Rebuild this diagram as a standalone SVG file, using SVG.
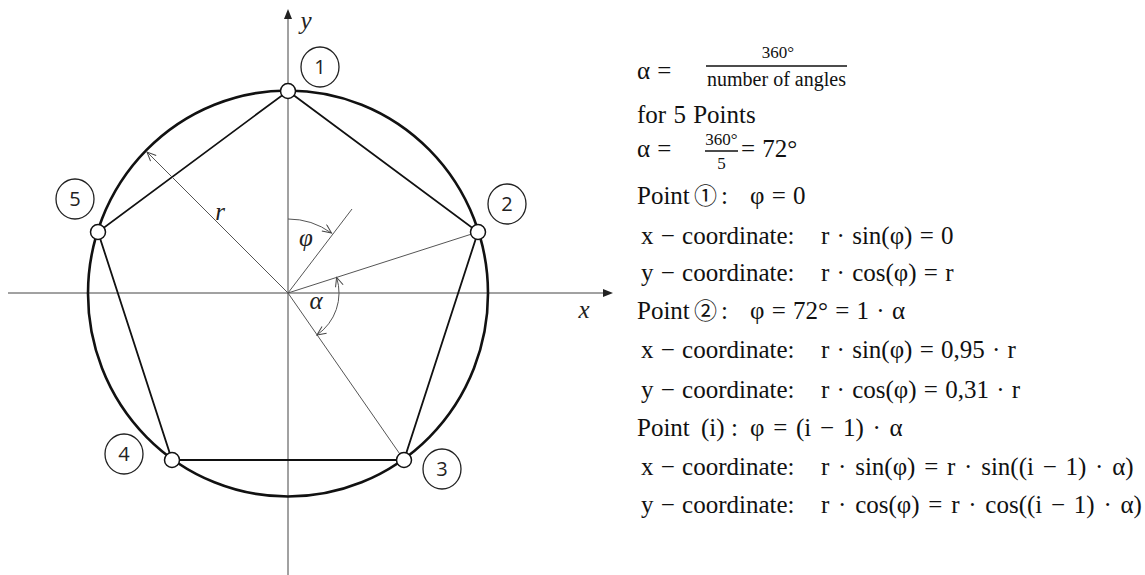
<svg xmlns="http://www.w3.org/2000/svg" width="1145" height="575" viewBox="0 0 1145 575">
<style>
.ax{stroke:#444;stroke-width:1;fill:none}
.thin{stroke:#555;stroke-width:1;fill:none}
.circ{stroke:#111;stroke-width:2.6;fill:none}
.poly{stroke:#111;stroke-width:1.8;fill:none}
.pt{stroke:#111;stroke-width:1.5;fill:#fff}
.lab{stroke:#222;stroke-width:1.3;fill:none}
.dig{font-family:"Open Sans","Liberation Sans",sans-serif;font-size:20px;fill:#222;text-anchor:middle}
.it{font-family:"Liberation Serif","Times New Roman",serif;font-style:italic;font-size:25px;fill:#222;text-anchor:middle}
.t{font-family:"Liberation Serif","Times New Roman",serif;font-size:25px;fill:#111;word-spacing:1px}
.w{word-spacing:2.5px}
.s{font-family:"Liberation Serif","Times New Roman",serif;font-size:17px;fill:#111;text-anchor:middle}
.c{font-family:"Noto Sans CJK JP","DejaVu Sans",sans-serif;font-size:23px}
</style>
<defs>
<marker id="open" markerUnits="userSpaceOnUse" markerWidth="12" markerHeight="10" refX="10" refY="4.5" orient="auto-start-reverse" viewBox="0 0 12 10">
<path d="M1,0.5 L10,4.5 L1,8.5" fill="none" stroke="#444" stroke-width="1"/>
</marker>
</defs>

<g id="axes">
<line class="ax" x1="8" y1="293" x2="605" y2="293"/>
<polygon points="613,293 603,289 603,297" fill="#222"/>
<line class="ax" x1="288" y1="575" x2="288" y2="18"/>
<polygon points="288,9 284,19 292,19" fill="#222"/>
<text class="it" x="584" y="318">x</text>
<text class="it" x="306" y="29">y</text>
</g>

<g id="circle">
<ellipse class="circ" cx="288" cy="293.5" rx="200" ry="203"/>
</g>

<g id="connectors">
<polygon class="poly" points="288,91 478,232 404,460 172,460 98,232"/>
<line class="thin" x1="288" y1="293" x2="478" y2="232"/>
<line class="thin" x1="288" y1="293" x2="404" y2="460"/>
<line class="thin" x1="288" y1="293" x2="352" y2="209"/>
<line class="thin" x1="288" y1="293" x2="147" y2="152" marker-end="url(#open)"/>
<path class="thin" d="M288,219 A74,74 0 0 1 331.5,233.1" marker-end="url(#open)"/>
<path class="thin" d="M336.6,277.4 A51,51 0 0 1 316.9,335" marker-start="url(#open)" marker-end="url(#open)"/>
<text class="it" x="220" y="220">r</text>
<text class="it" x="306" y="246">φ</text>
<text class="it" x="316" y="309">α</text>
</g>

<g id="p1"><circle class="pt" cx="288" cy="91" r="7.5"/><ellipse class="lab" cx="320" cy="67" rx="19" ry="20"/><text class="dig" x="320" y="74">1</text></g>
<g id="p2"><circle class="pt" cx="478" cy="232" r="7.5"/><ellipse class="lab" cx="507" cy="204" rx="19" ry="20"/><text class="dig" x="507" y="211">2</text></g>
<g id="p3"><circle class="pt" cx="404" cy="460" r="7.5"/><ellipse class="lab" cx="442" cy="469" rx="19" ry="20"/><text class="dig" x="442" y="476">3</text></g>
<g id="p4"><circle class="pt" cx="172" cy="460" r="7.5"/><ellipse class="lab" cx="124" cy="454" rx="19" ry="20"/><text class="dig" x="124" y="461">4</text></g>
<g id="p5"><circle class="pt" cx="98" cy="232" r="7.5"/><ellipse class="lab" cx="75" cy="199" rx="19" ry="20"/><text class="dig" x="75" y="206">5</text></g>

<g id="formulas" xml:space="preserve">
<text class="t" x="637" y="79">α =</text>
<line x1="706" y1="66" x2="847" y2="66" stroke="#111" stroke-width="1.6"/>
<text class="s" x="778" y="58">360°</text>
<text class="s" x="776.5" y="86" style="font-size:20px">number of angles</text>

<text class="t" x="637" y="123">for 5 Points</text>

<text class="t" x="637" y="157">α =</text>
<line x1="705" y1="151" x2="738" y2="151" stroke="#111" stroke-width="1.6"/>
<text class="s" x="721.5" y="145">360°</text>
<text class="s" x="721.5" y="169">5</text>
<text class="t" x="741" y="157">= 72°</text>

<text class="t" y="204"><tspan x="637">Point</tspan><tspan x="694" class="c">①</tspan><tspan x="721">:</tspan><tspan x="750">φ = 0</tspan></text>
<text class="t" y="244"><tspan x="641">x − coordinate:</tspan><tspan x="821">r · sin(φ) = 0</tspan></text>
<text class="t" y="281"><tspan x="641">y − coordinate:</tspan><tspan x="821">r · cos(φ) = r</tspan></text>
<text class="t" y="319"><tspan x="637">Point</tspan><tspan x="694" class="c">②</tspan><tspan x="721">:</tspan><tspan x="750">φ = 72° = 1 · α</tspan></text>
<text class="t" y="358"><tspan x="641">x − coordinate:</tspan><tspan x="821">r · sin(φ) = 0,95  · r</tspan></text>
<text class="t" y="398"><tspan x="641">y − coordinate:</tspan><tspan x="821">r · cos(φ) = 0,31  · r</tspan></text>
<text class="t" y="436"><tspan x="637">Point</tspan><tspan x="701">(i)</tspan><tspan x="731">:</tspan><tspan x="750" class="w">φ = (i − 1) · α</tspan></text>
<text class="t" y="475"><tspan x="641">x − coordinate:</tspan><tspan x="821" class="w">r · sin(φ) = r  · sin((i − 1) · α)</tspan></text>
<text class="t" y="513"><tspan x="641">y − coordinate:</tspan><tspan x="821" class="w">r · cos(φ) = r  · cos((i − 1) · α)</tspan></text>
</g>
</svg>
